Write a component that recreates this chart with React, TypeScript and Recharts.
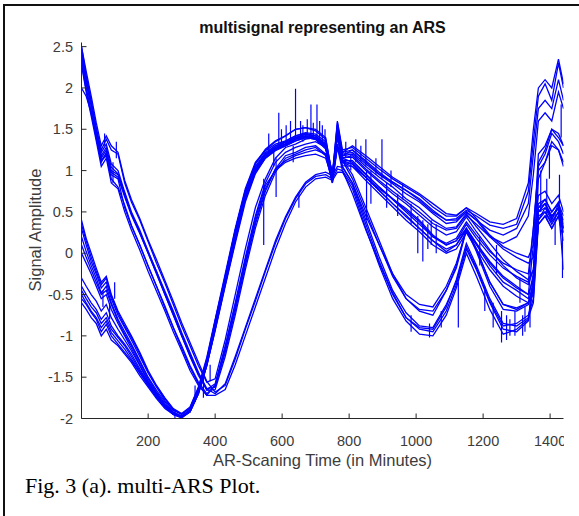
import { Line, LineChart, XAxis, YAxis } from "recharts";

// sample times (minutes), shared by every signal
const minutes = [
  1, 15, 30, 45, 60, 75, 90, 110, 130, 150, 175, 200, 225, 250, 275, 300, 325, 350, 375,
  400, 430, 460, 490, 520, 550, 580, 610, 640, 670, 700, 730, 750, 765, 780,
  810, 850, 890, 930, 970, 1010, 1050, 1090, 1120, 1150, 1180, 1220, 1260, 1300, 1335,
  1350, 1365, 1385, 1405, 1425, 1440,
];

// signals that start high (~2.5)
const sigA1 = [
  2.5, 2.15, 1.85, 1.52, 1.25, 1.38, 1.25, 1.2, 0.85, 0.62, 0.4, 0.14, -0.12, -0.36, -0.62, -0.88, -1.12, -1.36, -1.56,
  -1.52, -1.05, -0.5, 0.05, 0.55, 0.9, 1.15, 1.28, 1.32, 1.38, 1.4, 1.32, 0.92, 1.5, 1.18,
  1.25, 1.12, 0.98, 0.86, 0.76, 0.64, 0.5, 0.4, 0.42, 0.52, 0.45, 0.34, 0.3, 0.35, 0.75,
  1.35, 1.9, 2.05, 1.85, 2.3, 2.0,
];
const sigA2 = [
  2.4, 2.05, 1.78, 1.45, 1.15, 1.25, 1.0, 0.95, 0.7, 0.48, 0.25, 0.0, -0.25, -0.5, -0.75, -1.0, -1.25, -1.48, -1.65,
  -1.58, -1.12, -0.6, -0.05, 0.45, 0.85, 1.1, 1.22, 1.28, 1.32, 1.35, 1.28, 0.98, 1.4, 1.12,
  1.12, 0.96, 0.8, 0.66, 0.52, 0.38, 0.2, 0.1, 0.15, 0.35, 0.18, -0.02, -0.18, -0.28, -0.35,
  0.3, 1.05, 1.2, 1.45, 1.35, 1.2,
];
const sigA3 = [
  2.0, 1.9, 1.7, 1.42, 1.12, 1.2, 0.95, 0.9, 0.55, 0.33, 0.1, -0.15, -0.4, -0.64, -0.9, -1.12, -1.36, -1.56, -1.7,
  -1.6, -1.15, -0.62, -0.08, 0.42, 0.82, 1.0, 1.1, 1.15, 1.18, 1.2, 1.15, 0.9, 1.3, 1.1,
  1.08, 0.92, 0.76, 0.6, 0.46, 0.3, 0.15, 0.02, 0.1, 0.28, 0.1, -0.15, -0.35, -0.45, -0.55,
  -0.25, 0.5, 0.6, 0.45, 0.55, 0.3,
];
const sigA4 = [
  2.35, 2.0, 1.72, 1.4, 1.1, 1.22, 0.98, 0.92, 0.68, 0.46, 0.24, 0.0, -0.24, -0.5, -0.74, -1.0, -1.24, -1.46, -1.64,
  -1.62, -1.2, -0.7, -0.15, 0.35, 0.75, 1.02, 1.18, 1.22, 1.28, 1.3, 1.2, 0.88, 1.3, 1.05,
  0.85, 0.45, 0.1, -0.25, -0.5, -0.62, -0.65, -0.4, -0.12, 0.28, 0.05, -0.35, -0.62, -0.68, -0.6,
  -0.5, 0.4, 0.5, 0.35, 0.5, 0.25,
];
const sigA5 = [
  2.45, 2.12, 1.82, 1.5, 1.22, 1.32, 1.08, 1.0, 0.74, 0.5, 0.28, 0.02, -0.22, -0.48, -0.72, -0.98, -1.22, -1.45, -1.66,
  -1.65, -1.25, -0.75, -0.2, 0.3, 0.7, 0.98, 1.15, 1.2, 1.25, 1.28, 1.18, 0.85, 1.28, 1.0,
  0.72, 0.28, -0.12, -0.5, -0.78, -0.9, -0.92, -0.65, -0.32, 0.12, -0.15, -0.55, -0.85, -0.88, -0.78,
  -0.6, 0.35, 0.45, 0.3, 0.45, 0.15,
];
const sigA6 = [
  2.5, 2.2, 1.9, 1.58, 1.3, 1.42, 1.3, 1.22, 0.88, 0.65, 0.42, 0.16, -0.08, -0.33, -0.58, -0.84, -1.08, -1.32, -1.55,
  -1.68, -1.6, -1.28, -0.92, -0.58, -0.22, 0.12, 0.42, 0.66, 0.84, 0.93, 0.95, 0.9, 1.02, 1.0,
  0.82, 0.35, -0.1, -0.48, -0.78, -0.92, -0.95, -0.7, -0.38, 0.05, -0.2, -0.6, -0.92, -0.95, -0.82,
  -0.4, 0.9, 1.1, 1.35, 1.25, 1.1,
];
const sigA7 = [
  2.3, 1.98, 1.7, 1.4, 1.12, 1.18, 0.9, 0.8, 0.58, 0.34, 0.1, -0.16, -0.4, -0.66, -0.9, -1.15, -1.38, -1.58, -1.72,
  -1.72, -1.65, -1.35, -1.0, -0.65, -0.3, 0.05, 0.36, 0.62, 0.8, 0.9, 0.92, 0.88, 0.98, 0.98,
  0.78, 0.3, -0.15, -0.55, -0.82, -0.98, -1.0, -0.75, -0.42, 0.0, -0.28, -0.68, -0.98, -0.92, -0.8,
  -0.3, 1.1, 1.25, 1.5, 1.4, 1.3,
];
const sigA8 = [
  2.42, 2.08, 1.8, 1.48, 1.18, 1.28, 1.04, 0.96, 0.72, 0.48, 0.26, 0.02, -0.22, -0.46, -0.7, -0.96, -1.2, -1.44, -1.64,
  -1.7, -1.58, -1.25, -0.9, -0.55, -0.2, 0.15, 0.44, 0.68, 0.86, 0.95, 0.98, 0.94, 1.05, 1.04,
  0.85, 0.4, -0.05, -0.45, -0.72, -0.88, -0.9, -0.62, -0.35, 0.08, -0.18, -0.58, -0.88, -0.85, -0.75,
  -0.55, 0.4, 0.55, 0.4, 0.6, 0.3,
];
const sigA9 = [
  2.28, 1.95, 1.66, 1.36, 1.05, 1.15, 0.85, 0.78, 0.5, 0.28, 0.04, -0.22, -0.46, -0.7, -0.95, -1.18, -1.42, -1.6, -1.72,
  -1.6, -1.18, -0.66, -0.12, 0.38, 0.78, 1.02, 1.12, 1.18, 1.22, 1.25, 1.2, 0.86, 1.32, 1.06,
  1.05, 0.92, 0.78, 0.66, 0.54, 0.4, 0.22, 0.1, 0.15, 0.3, 0.12, -0.12, -0.3, -0.42, -0.5,
  0.1, 1.2, 1.3, 1.5, 1.45, 1.3,
];

// signals that start low (~0.4 .. -0.6)
const sigB1 = [
  0.4, 0.18, 0.0, -0.18, -0.35, -0.28, -0.5, -0.7, -0.85, -1.0, -1.2, -1.42, -1.6, -1.75, -1.88, -1.94, -1.86, -1.62, -1.26,
  -0.8, -0.25, 0.3, 0.78, 1.1, 1.25, 1.35, 1.42, 1.5, 1.52, 1.5, 1.4, 0.92, 1.58, 1.22,
  1.3, 1.18, 1.05, 0.92, 0.82, 0.72, 0.6, 0.48, 0.46, 0.55, 0.48, 0.38, 0.35, 0.42, 0.85,
  1.5, 2.0, 2.1, 2.0, 2.35, 2.05,
];
const sigB2 = [
  0.3, 0.1, -0.1, -0.25, -0.42, -0.35, -0.55, -0.75, -0.9, -1.05, -1.25, -1.45, -1.62, -1.78, -1.9, -1.95, -1.88, -1.65, -1.3,
  -0.85, -0.3, 0.25, 0.72, 1.05, 1.22, 1.3, 1.35, 1.42, 1.45, 1.42, 1.32, 0.88, 1.52, 1.2,
  1.22, 1.08, 0.95, 0.84, 0.72, 0.62, 0.48, 0.36, 0.38, 0.5, 0.4, 0.28, 0.22, 0.3, 0.6,
  1.2, 1.75, 1.85, 1.75, 2.1, 1.85,
];
const sigB3 = [
  0.2, 0.02, -0.15, -0.3, -0.48, -0.4, -0.6, -0.8, -0.95, -1.1, -1.3, -1.5, -1.66, -1.8, -1.92, -1.97, -1.9, -1.68, -1.34,
  -0.9, -0.35, 0.2, 0.68, 1.0, 1.18, 1.28, 1.32, 1.4, 1.42, 1.4, 1.3, 0.85, 1.48, 1.15,
  1.18, 1.02, 0.88, 0.75, 0.63, 0.5, 0.36, 0.28, 0.3, 0.46, 0.35, 0.2, 0.12, 0.2, 0.45,
  0.95, 1.6, 1.7, 1.6, 1.95, 1.75,
];
const sigB4 = [
  0.1, -0.05, -0.2, -0.35, -0.5, -0.45, -0.62, -0.82, -0.98, -1.12, -1.32, -1.52, -1.68, -1.82, -1.93, -1.98, -1.92, -1.7, -1.36,
  -0.92, -0.38, 0.15, 0.65, 0.98, 1.15, 1.25, 1.3, 1.38, 1.4, 1.38, 1.28, 0.9, 1.45, 1.15,
  1.1, 0.95, 0.8, 0.65, 0.5, 0.35, 0.2, 0.12, 0.18, 0.38, 0.22, 0.02, -0.12, -0.2, -0.25,
  0.3, 1.0, 1.1, 1.3, 1.25, 1.05,
];
const sigB5 = [
  0.0, -0.12, -0.25, -0.4, -0.55, -0.5, -0.68, -0.85, -1.0, -1.15, -1.35, -1.55, -1.7, -1.84, -1.94, -1.98, -1.9, -1.66, -1.3,
  -0.85, -0.32, 0.22, 0.7, 1.02, 1.2, 1.28, 1.34, 1.4, 1.44, 1.4, 1.3, 0.92, 1.5, 1.18,
  1.2, 1.05, 0.92, 0.8, 0.66, 0.55, 0.4, 0.3, 0.32, 0.48, 0.32, 0.12, -0.08, -0.22, -0.32,
  -0.2, 0.6, 0.65, 0.5, 0.6, 0.45,
];
const sigB6 = [
  -0.3, -0.4, -0.5, -0.58, -0.7, -0.62, -0.78, -0.92, -1.05, -1.18, -1.36, -1.55, -1.7, -1.84, -1.93, -1.97, -1.9, -1.66, -1.3,
  -0.82, -0.28, 0.28, 0.75, 1.08, 1.24, 1.32, 1.36, 1.42, 1.46, 1.44, 1.35, 0.95, 1.55, 1.22,
  1.25, 1.1, 0.96, 0.86, 0.76, 0.66, 0.52, 0.4, 0.4, 0.5, 0.4, 0.2, 0.05, -0.05, -0.12,
  -0.05, 0.55, 0.6, 0.45, 0.55, 0.4,
];
const sigB7 = [
  -0.45, -0.55, -0.65, -0.72, -0.85, -0.78, -0.92, -1.02, -1.12, -1.25, -1.42, -1.58, -1.72, -1.86, -1.95, -1.99, -1.92, -1.68, -1.34,
  -0.9, -0.36, 0.18, 0.66, 1.0, 1.18, 1.26, 1.32, 1.38, 1.42, 1.38, 1.28, 0.88, 1.46, 1.12,
  1.08, 0.92, 0.76, 0.6, 0.44, 0.3, 0.15, 0.05, 0.1, 0.3, 0.12, -0.1, -0.28, -0.4, -0.5,
  -0.3, 0.45, 0.5, 0.38, 0.5, 0.3,
];
const sigB8 = [
  -0.55, -0.62, -0.72, -0.8, -0.95, -0.86, -1.0, -1.1, -1.2, -1.3, -1.45, -1.6, -1.74, -1.86, -1.94, -1.98, -1.9, -1.66, -1.3,
  -0.86, -0.3, 0.24, 0.72, 1.04, 1.2, 1.3, 1.34, 1.4, 1.44, 1.42, 1.32, 0.9, 1.5, 1.16,
  1.16, 1.0, 0.86, 0.72, 0.6, 0.46, 0.32, 0.22, 0.26, 0.44, 0.26, 0.04, -0.15, -0.3, -0.38,
  -0.2, 0.5, 0.55, 0.45, 0.55, -0.2,
];
const sigB9 = [
  -0.6, -0.68, -0.78, -0.85, -1.0, -0.92, -1.05, -1.12, -1.22, -1.32, -1.48, -1.62, -1.76, -1.88, -1.95, -1.98, -1.92, -1.7, -1.36,
  -0.94, -0.4, 0.12, 0.62, 0.96, 1.15, 1.24, 1.3, 1.36, 1.4, 1.38, 1.26, 0.88, 1.42, 1.1,
  1.05, 0.88, 0.72, 0.56, 0.4, 0.26, 0.1, 0.0, 0.05, 0.25, 0.05, -0.2, -0.4, -0.52, -0.6,
  -0.35, 0.35, 0.45, 0.3, 0.45, 0.25,
];
const sigB10 = [
  -0.5, -0.6, -0.7, -0.78, -0.9, -0.82, -0.96, -1.06, -1.16, -1.28, -1.44, -1.6, -1.74, -1.86, -1.95, -1.99, -1.92, -1.7, -1.36,
  -0.92, -0.38, 0.15, 0.65, 0.98, 1.16, 1.26, 1.3, 1.36, 1.4, 1.38, 1.28, 0.9, 1.42, 1.12,
  0.9, 0.5, 0.1, -0.28, -0.55, -0.68, -0.7, -0.45, -0.18, 0.28, 0.02, -0.4, -0.68, -0.7, -0.62,
  -0.45, 0.5, 0.6, 0.42, 0.55, 0.3,
];
const sigB11 = [
  0.35, 0.15, -0.05, -0.22, -0.38, -0.3, -0.52, -0.72, -0.88, -1.02, -1.22, -1.44, -1.61, -1.76, -1.89, -1.95, -1.87, -1.63, -1.28,
  -0.82, -0.28, 0.28, 0.76, 1.08, 1.26, 1.36, 1.42, 1.5, 1.52, 1.48, 1.38, 0.95, 1.6, 1.25,
  1.28, 1.15, 1.02, 0.9, 0.8, 0.7, 0.56, 0.45, 0.45, 0.55, 0.42, 0.22, 0.08, 0.0, -0.05,
  0.1, 0.7, 0.75, 0.6, 0.7, 0.5,
];
const sigB12 = [
  -0.4, -0.5, -0.6, -0.68, -0.8, -0.72, -0.88, -1.0, -1.1, -1.22, -1.4, -1.57, -1.72, -1.85, -1.94, -1.98, -1.91, -1.68, -1.33,
  -0.88, -0.34, 0.2, 0.68, 1.0, 1.18, 1.27, 1.32, 1.38, 1.42, 1.4, 1.3, 0.9, 1.46, 1.14,
  0.95, 0.55, 0.15, -0.25, -0.55, -0.7, -0.75, -0.45, -0.15, 0.3, 0.05, -0.35, -0.62, -0.66, -0.6,
  -0.4, 0.55, 0.65, 0.5, 0.62, 0.35,
];

// short glitches in single recordings: minute, level before, level reached
const spikeMinutes = [
  545, 582, 590, 612, 640, 686, 704, 820, 850, 852, 898, 1005, 1020, 1035, 1126, 1255, 1270, 1295, 1325, 1437,
  560, 575, 598, 625, 633, 655, 662, 675, 693, 712, 720, 728, 790, 805, 835, 865, 880, 912, 925, 945,
  960, 985, 1045, 1060, 985, 1040, 1075, 1190, 1205, 1230, 1240, 1280, 1310, 1318, 1340, 1372, 1390, 1398,
  1415, 1428, 1433, 340, 365, 385, 280, 650, 70, 95, 105, 65, 85, 100,
];
const spikeFrom = [
  0.9, 1.15, 1.3, 1.3, 1.4, 1.42, 1.4, 1.1, 1.05, 1.0, 0.9, 0.45, 0.4, 0.35, -0.35, -0.7, -0.75, -0.7, -0.65, 0.3,
  1.2, 1.25, 1.3, 1.35, 1.3, 1.4, 1.35, 1.4, 1.38, 1.38, 1.35, 1.3, 1.15, 1.2, 1.1, 1.0, 0.95, 0.85, 0.8, 0.72,
  0.65, 0.6, 0.4, 0.35, -0.75, -0.85, -0.7, 0.2, -0.4, -0.6, 0.1, -0.8, -0.3, -0.75, -0.6, 0.5, 0.4, 1.3,
  0.5, 0.6, 1.8, -1.6, -1.5, -1.55, -1.9, 0.72, 1.3, 1.1, 1.15, -0.45, -0.8, -0.55,
];
const spikeTo = [
  0.1, 0.68, 1.7, 1.55, 1.99, 1.8, 1.8, 1.38, 1.38, 0.4, 1.38, 0.0, -0.1, 0.05, -0.9, -1.08, -1.05, -1.0, -0.95, -0.3,
  1.45, 1.05, 1.5, 1.6, 1.1, 1.6, 1.55, 1.62, 1.58, 1.6, 1.55, 1.5, 1.35, 1.0, 1.3, 0.6, 1.15, 0.55, 1.0, 0.45,
  0.85, 0.35, 0.1, 0.0, -0.95, -1.02, -0.9, -0.15, -0.7, -0.9, -0.25, -1.0, -0.6, -1.0, -0.9, 1.0, 0.9, 0.9,
  0.1, 0.95, 1.4, -1.8, -1.75, -1.35, -2.0, 0.55, 1.45, 0.85, 1.35, -0.65, -0.6, -0.35,
];

const xTicks = [200, 400, 600, 800, 1000, 1200, 1400];
const yTicks = [-2, -1.5, -1, -0.5, 0, 0.5, 1, 1.5, 2, 2.5];

const signals = [
  sigA1, sigA2, sigA3, sigA4, sigA5, sigA6, sigA7, sigA8, sigA9,
  sigB1, sigB2, sigB3, sigB4, sigB5, sigB6, sigB7, sigB8, sigB9, sigB10, sigB11, sigB12,
];

const BLUE = "#0000ff";
const AXIS = "#262626";
const INK = "#3c3c3c";
const SANS = '"Liberation Sans", Arial, sans-serif';

export default function App() {
  const lines = signals.map((ys) => ys.map((v, i) => ({ t: minutes[i], v })));
  const spikes = spikeMinutes.map((t, i) => [
    { t, v: spikeFrom[i] },
    { t, v: spikeTo[i] },
  ]);
  const tickFont = { fill: INK, fontSize: 14.5, fontFamily: SANS };

  return (
    <div
      style={{
        position: "absolute",
        left: 0,
        top: 0,
        width: 579,
        height: 516,
        background: "#fff",
        overflow: "hidden",
      }}
    >
      {/* frame of the scanned figure: only top and left edges survive the crop */}
      <div
        style={{
          position: "absolute",
          left: 3,
          top: 4,
          width: 580,
          height: 520,
          borderTop: "2px solid #111",
          borderLeft: "2px solid #111",
        }}
      />
      <div style={{ position: "absolute", left: 0, top: 0, width: 564, height: 480, overflow: "hidden" }}>
        <LineChart width={640} height={480} margin={{ top: 42.5, right: 76.5, bottom: 31.5, left: 51.5 }}>
          <XAxis
            xAxisId="b"
            type="number"
            dataKey="t"
            domain={[1, 1440]}
            allowDataOverflow
            ticks={xTicks}
            height={30}
            tickSize={-5}
            tickMargin={22}
            tick={tickFont}
            axisLine={{ stroke: AXIS }}
            tickLine={{ stroke: AXIS }}
          />
          <XAxis
            xAxisId="t"
            orientation="top"
            type="number"
            dataKey="t"
            domain={[1, 1440]}
            allowDataOverflow
            ticks={xTicks}
            height={0}
            tickSize={-5}
            tick={false}
            axisLine={{ stroke: AXIS }}
            tickLine={{ stroke: AXIS }}
          />
          <YAxis
            yAxisId="l"
            type="number"
            domain={[-2, 2.55]}
            allowDataOverflow
            ticks={yTicks}
            width={30}
            tickSize={-5}
            tickMargin={13.5}
            tick={tickFont}
            axisLine={{ stroke: AXIS }}
            tickLine={{ stroke: AXIS }}
          />
          <YAxis
            yAxisId="r"
            orientation="right"
            type="number"
            domain={[-2, 2.55]}
            allowDataOverflow
            ticks={yTicks}
            width={0}
            tickSize={-5}
            tick={false}
            axisLine={{ stroke: AXIS }}
            tickLine={{ stroke: AXIS }}
          />
          {lines.map((d, i) => (
            <Line
              key={"s" + i}
              data={d}
              dataKey="v"
              xAxisId="b"
              yAxisId="l"
              type="linear"
              stroke={BLUE}
              strokeWidth={1.3}
              dot={false}
              activeDot={false}
              isAnimationActive={false}
            />
          ))}
          {spikes.map((d, i) => (
            <Line
              key={"k" + i}
              data={d}
              dataKey="v"
              xAxisId="b"
              yAxisId="l"
              type="linear"
              stroke={BLUE}
              strokeWidth={1.2}
              dot={false}
              activeDot={false}
              isAnimationActive={false}
            />
          ))}
        </LineChart>
      </div>
      <div
        style={{
          position: "absolute",
          left: 0,
          width: 645,
          top: 19,
          lineHeight: "18px",
          textAlign: "center",
          fontFamily: SANS,
          fontWeight: "bold",
          fontSize: 16,
          color: "#111",
        }}
      >
        multisignal representing an ARS
      </div>
      <div
        style={{
          position: "absolute",
          left: 0,
          width: 645,
          top: 450,
          lineHeight: "20px",
          textAlign: "center",
          fontFamily: SANS,
          fontSize: 16.5,
          color: INK,
        }}
      >
        AR-Scaning Time (in Minutes)
      </div>
      <div
        style={{
          position: "absolute",
          left: 35 - 100,
          top: 230 - 10,
          width: 200,
          lineHeight: "20px",
          textAlign: "center",
          fontFamily: SANS,
          fontSize: 16.5,
          color: INK,
          transform: "rotate(-90deg)",
        }}
      >
        Signal Amplitude
      </div>
      <div
        style={{
          position: "absolute",
          left: 25,
          top: 473,
          lineHeight: "26px",
          fontFamily: '"Liberation Serif", "Times New Roman", serif',
          fontSize: 22,
          color: "#000",
          whiteSpace: "nowrap",
        }}
      >
        Fig. 3 (a). multi-ARS Plot.
      </div>
    </div>
  );
}
